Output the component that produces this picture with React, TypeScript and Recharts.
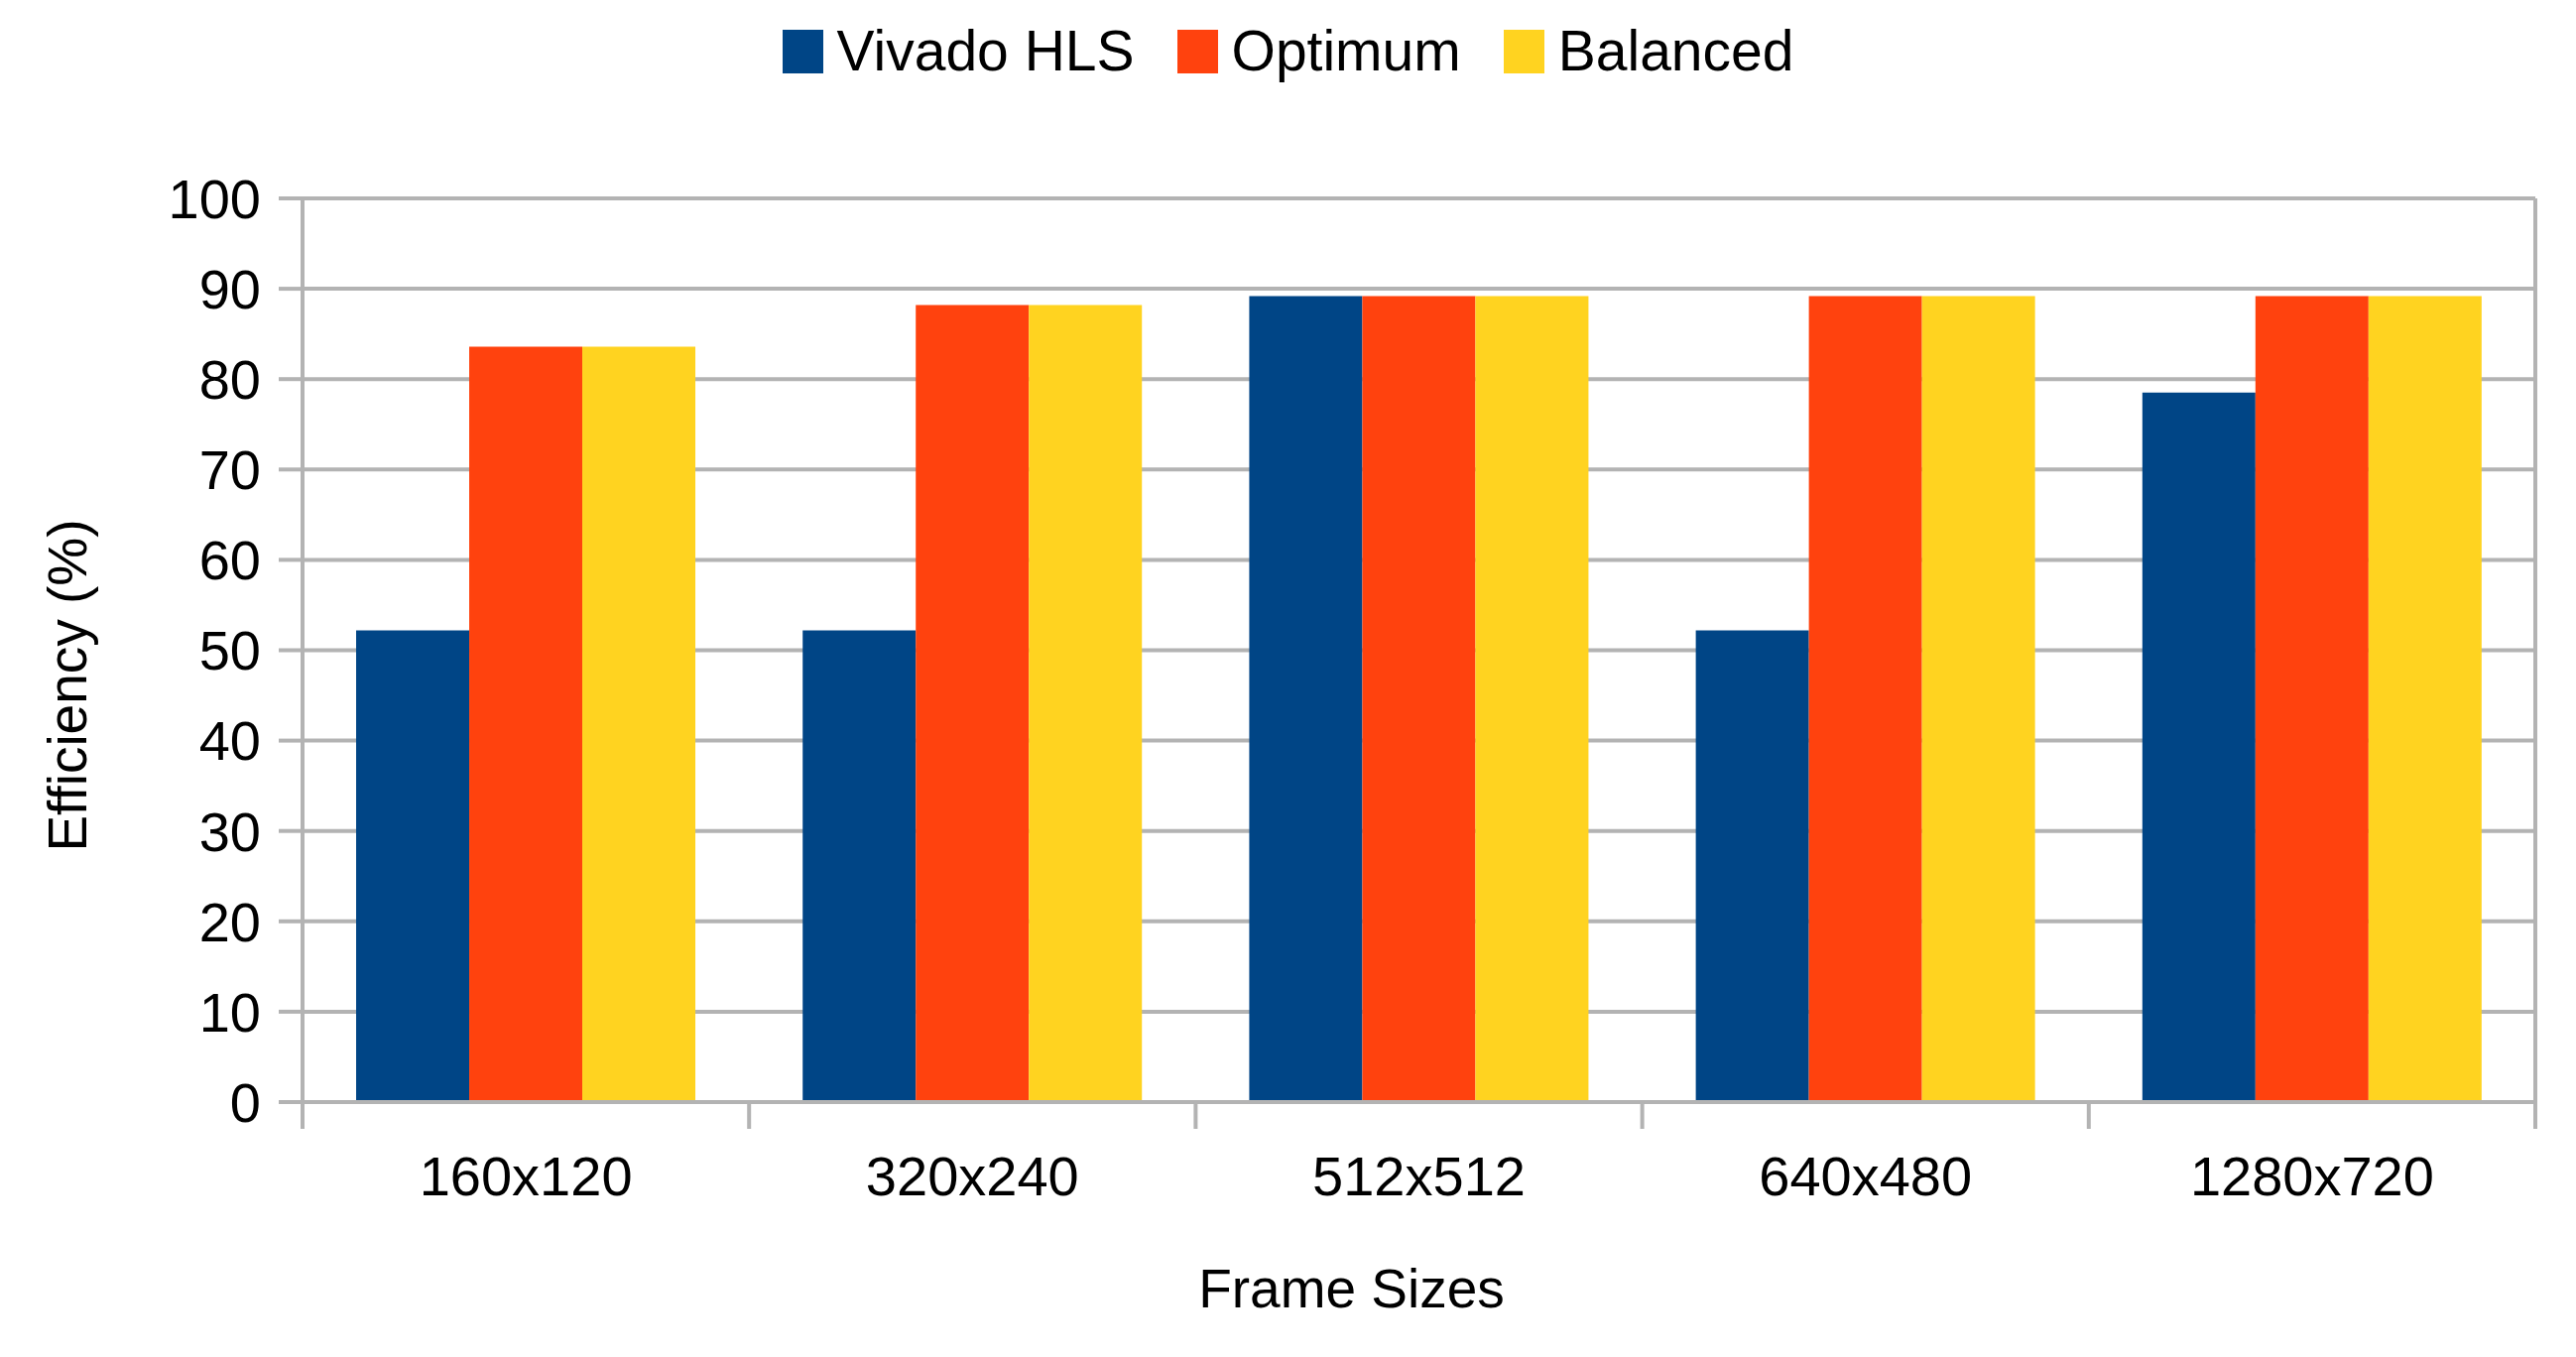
import React from "react";
import {
  BarChart,
  Bar,
  XAxis,
  YAxis,
  CartesianGrid,
  Legend,
  Label,
} from "recharts";

// frame sizes on the x axis
const frameSizes = ["160x120", "320x240", "512x512", "640x480", "1280x720"];

// efficiency (%) per frame size
const vivadoHls = [52.2, 52.2, 89.2, 52.2, 78.5];
const optimum = [83.6, 88.2, 89.2, 89.2, 89.2];
const balanced = [83.6, 88.2, 89.2, 89.2, 89.2];

const yTicks = [0, 10, 20, 30, 40, 50, 60, 70, 80, 90, 100];

const seriesList = [
  { key: "vivado", name: "Vivado HLS", color: "#004586", values: vivadoHls },
  { key: "optimum", name: "Optimum", color: "#ff420e", values: optimum },
  { key: "balanced", name: "Balanced", color: "#ffd320", values: balanced },
];

const data = frameSizes.map((size, i) => ({
  size,
  vivado: vivadoHls[i],
  optimum: optimum[i],
  balanced: balanced[i],
}));

const FONT = '"Liberation Sans", Arial, sans-serif';
const GRID = "#b3b3b3";
const PLOT_H = 911;

// category label plus tick marks at the band edges (LibreOffice style)
const FrameTick = (props: any) => {
  const { x, y, payload } = props;
  const half = payload.offset || 0;
  const last = payload.index === frameSizes.length - 1;
  return (
    <g>
      <line x1={x - half} x2={x - half} y1={y} y2={y + 27} stroke={GRID} strokeWidth={4} />
      {last && (
        <line x1={x + half} x2={x + half} y1={y - PLOT_H} y2={y + 27} stroke={GRID} strokeWidth={4} />
      )}
      <text x={x} y={y + 94} textAnchor="middle" fontSize={56} fill="#000" fontFamily={FONT}>
        {payload.value}
      </text>
    </g>
  );
};

const YTitle = () => (
  <text
    x={87}
    y={691}
    transform="rotate(-90 87 691)"
    textAnchor="middle"
    fontSize={55}
    fill="#000"
    fontFamily={FONT}
  >
    Efficiency (%)
  </text>
);

const LegendBox = () => (
  <div
    style={{
      display: "flex",
      justifyContent: "center",
      alignItems: "center",
      gap: 43,
      height: 57,
      fontFamily: FONT,
    }}
  >
    {seriesList.map((s) => (
      <div key={s.key} style={{ display: "flex", alignItems: "center" }}>
        <div style={{ width: 41, height: 44, background: s.color, marginRight: 14 }} />
        <span style={{ fontSize: 57, lineHeight: "57px", color: "#000" }}>{s.name}</span>
      </div>
    ))}
  </div>
);

export default function App() {
  return (
    <div style={{ position: "absolute", left: 0, top: 0, width: 2597, height: 1368, background: "#fff" }}>
      <BarChart
        width={2597}
        height={1368}
        data={data}
        margin={{ top: 143, right: 41, bottom: 0, left: 0 }}
        barCategoryGap="12%"
        barGap={0}
      >
        <CartesianGrid vertical={false} stroke={GRID} strokeWidth={4} />
        <Legend
          verticalAlign="top"
          wrapperStyle={{ top: 23, left: 0, width: 2597 }}
          content={LegendBox}
        />
        <XAxis
          dataKey="size"
          height={257}
          axisLine={{ stroke: GRID, strokeWidth: 4 }}
          tickLine={false}
          tickSize={0}
          tickMargin={0}
          interval={0}
          tick={FrameTick}
        >
          <Label
            value="Frame Sizes"
            position="insideBottom"
            offset={50}
            dx={-68}
            fontSize={55}
            fill="#000"
            fontFamily={FONT}
          />
        </XAxis>
        <YAxis
          width={305}
          domain={[0, 100]}
          ticks={yTicks}
          interval={0}
          axisLine={{ stroke: GRID, strokeWidth: 4 }}
          tickLine={{ stroke: GRID, strokeWidth: 4 }}
          tickSize={24}
          tickMargin={18}
          tick={{ fontSize: 56, fill: "#000", fontFamily: FONT }}
          label={{ content: YTitle }}
        />
        {seriesList.map((s) => (
          <Bar key={s.key} dataKey={s.key} name={s.name} fill={s.color} isAnimationActive={false} />
        ))}
      </BarChart>
    </div>
  );
}
